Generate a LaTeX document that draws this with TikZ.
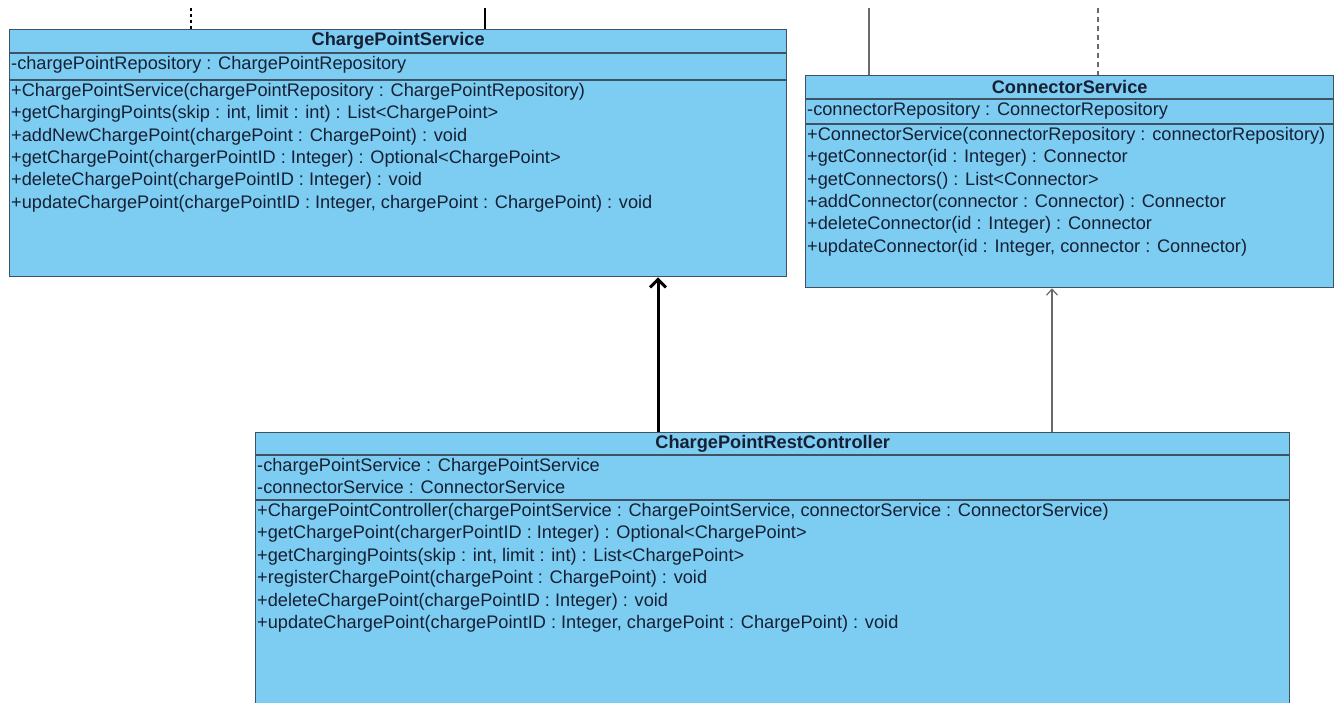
\documentclass[tikz,border=0pt]{standalone}
\usepackage{fontspec}
\setmainfont{Liberation Sans}
\definecolor{classfill}{RGB}{125, 205, 242}
\definecolor{classline}{RGB}{62, 82, 100}
\definecolor{classtext}{RGB}{22, 32, 52}
\definecolor{linkgray}{RGB}{105, 105, 105}
\usetikzlibrary{arrows.meta, calc}

\begin{document}
\begin{tikzpicture}[x=1pt, y=-1pt,
  classbox/.style={draw=classline, line width=1.3pt, fill=classfill, anchor=north west, inner sep=0pt},
  classname/.style={font=\fontsize{18.2}{22.4}\selectfont\bfseries, text=classtext},
  members/.style={anchor=north west, align=left, inner xsep=2pt, inner ysep=3pt, font=\fontsize{18.2}{22.4}\selectfont, text=classtext},
  sepline/.style={draw=classline, line width=1.3pt},
  realization/.style={line width=3pt, -{Straight Barb[length=8pt, width=16pt]}},
  usage/.style={draw=linkgray, line width=1.2pt, -{Straight Barb[length=6pt, width=11pt]}}
]
  \clip (0,0) rectangle (1335,702);

  % ChargePointService
  \node[classbox, minimum width=777pt, minimum height=247pt] (cps) at (9,29) {};
  \node[classname] (cpsname) at ($(cps.north)+(0,12)$) {ChargePointService};
  \draw[sepline] ($(cps.north west)+(0,24)$) -- ($(cps.north east)+(0,24)$);
  \draw[sepline] ($(cps.north west)+(0,51)$) -- ($(cps.north east)+(0,51)$);
  \node[members] (cpsattr) at ($(cps.north west)+(0,24)$) {-chargePointRepository : ChargePointRepository};
  \node[members] (cpsops) at ($(cps.north west)+(0,51)$) {+ChargePointService(chargePointRepository : ChargePointRepository)\\
    +getChargingPoints(skip : int, limit : int) : List<ChargePoint>\\
    +addNewChargePoint(chargePoint : ChargePoint) : void\\
    +getChargePoint(chargerPointID : Integer) : Optional<ChargePoint>\\
    +deleteChargePoint(chargePointID : Integer) : void\\
    +updateChargePoint(chargePointID : Integer, chargePoint : ChargePoint) : void};

  % ConnectorService
  \node[classbox, minimum width=528pt, minimum height=212pt] (cs) at (805,75) {};
  \node[classname] (csname) at ($(cs.north)+(0,12)$) {ConnectorService};
  \draw[sepline] ($(cs.north west)+(0,24)$) -- ($(cs.north east)+(0,24)$);
  \draw[sepline] ($(cs.north west)+(0,49)$) -- ($(cs.north east)+(0,49)$);
  \node[members] (csattr) at ($(cs.north west)+(0,24)$) {-connectorRepository : ConnectorRepository};
  \node[members] (csops) at ($(cs.north west)+(0,49)$) {+ConnectorService(connectorRepository : connectorRepository)\\
    +getConnector(id : Integer) : Connector\\
    +getConnectors() : List<Connector>\\
    +addConnector(connector : Connector) : Connector\\
    +deleteConnector(id : Integer) : Connector\\
    +updateConnector(id : Integer, connector : Connector)};

  % ChargePointRestController
  \node[classbox, minimum width=1034pt, minimum height=285pt] (cpr) at (255,432) {};
  \node[classname] (cprname) at ($(cpr.north)+(0,12)$) {ChargePointRestController};
  \draw[sepline] ($(cpr.north west)+(0,23)$) -- ($(cpr.north east)+(0,23)$);
  \draw[sepline] ($(cpr.north west)+(0,68)$) -- ($(cpr.north east)+(0,68)$);
  \node[members] (cprattr) at ($(cpr.north west)+(0,23)$) {-chargePointService : ChargePointService\\
    -connectorService : ConnectorService};
  \node[members] (cprops) at ($(cpr.north west)+(0,68)$) {+ChargePointController(chargePointService : ChargePointService, connectorService : ConnectorService)\\
    +getChargePoint(chargerPointID : Integer) : Optional<ChargePoint>\\
    +getChargingPoints(skip : int, limit : int) : List<ChargePoint>\\
    +registerChargePoint(chargePoint : ChargePoint) : void\\
    +deleteChargePoint(chargePointID : Integer) : void\\
    +updateChargePoint(chargePointID : Integer, chargePoint : ChargePoint) : void};

  % links
  \draw[realization] ([xshift=403pt]cpr.north west) -- ([xshift=403pt]cpr.north west |- cps.south);
  \draw[usage] ([xshift=797pt]cpr.north west) -- ([xshift=797pt]cpr.north west |- cs.south);

  % incoming from above
  \coordinate (cpsin1) at (191,8);
  \coordinate (cpsin2) at (485,8);
  \coordinate (csin1) at (869,8);
  \coordinate (csin2) at (1098,8);
  \draw[line width=2.5pt, dash pattern=on 3pt off 3pt] (cpsin1) -- (cpsin1 |- cps.north);
  \draw[line width=2.5pt] (cpsin2) -- (cpsin2 |- cps.north);
  \draw[linkgray, line width=1.2pt] (csin1) -- (csin1 |- cs.north);
  \draw[linkgray, line width=1.2pt, dash pattern=on 5pt off 4pt] (csin2) -- (csin2 |- cs.north);
\end{tikzpicture}
\end{document}
